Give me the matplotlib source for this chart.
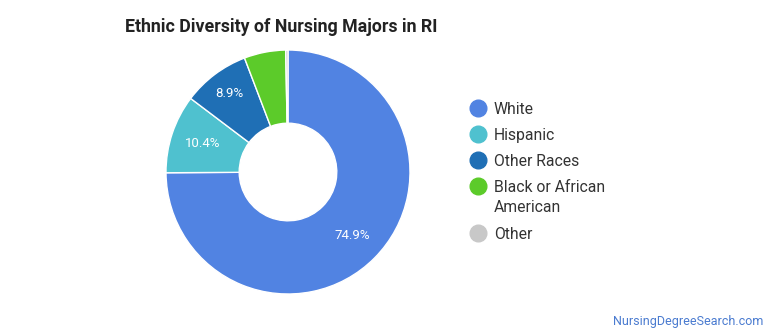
import matplotlib
matplotlib.use("Agg")
import numpy as np
import matplotlib.pyplot as plt
from matplotlib.lines import Line2D

plt.rcParams['font.family'] = ['Roboto', 'DejaVu Sans']

# data
groups = ['White', 'Hispanic', 'Other Races', 'Black or African\nAmerican', 'Other']
shares = [74.9, 10.4, 8.9, 5.5, 0.3]
colors = ['#5183e2', '#4fc1cf', '#1f6fb5', '#5ccb2a', '#c8c8c8']

# radial position of the % labels inside each ring slice
label_r = [0.74, 0.74, 0.80, 0.8, 0.8]

W, H = 770, 335
fig = plt.figure(figsize=(W / 100, H / 100), dpi=100)

# donut centred at about (288, 172) px, outer radius ~122 px
cx, cy, r = 288, 172, 122
ax = fig.add_axes([(cx - r) / W, (H - cy - r) / H, 2 * r / W, 2 * r / H])

wedges, texts, autotexts = ax.pie(
    shares, colors=colors, startangle=90, counterclock=False,
    radius=1, wedgeprops=dict(width=0.6, edgecolor='white', linewidth=1),
    autopct=lambda p: f'{p:.1f}%' if p > 8 else '', pctdistance=0.8,
    textprops=dict(color='white', fontsize=9.5))
for w, t, lr in zip(wedges, autotexts, label_r):
    ang = np.deg2rad((w.theta1 + w.theta2) / 2)
    t.set_position((lr * np.cos(ang), lr * np.sin(ang)))
ax.set_xlim(-1, 1)
ax.set_ylim(-1, 1)
ax.set_aspect('equal')
ax.axis('off')

fig.text(125 / W, 1 - 27 / H, 'Ethnic Diversity of Nursing Majors in RI',
         fontsize=12.8, fontweight='bold', color='#222222', va='center', ha='left')

# legend drawn by hand so the marker sits on the first line of a wrapped label
y = 108
for name, c in zip(groups, colors):
    fig.add_artist(Line2D([478 / W], [1 - y / H], marker='o', linestyle='',
                          markersize=12, markerfacecolor=c, markeredgecolor=c,
                          transform=fig.transFigure))
    fig.text(494 / W, 1 - (y - 6) / H, name, fontsize=11.3, color='#333333',
             ha='left', va='top', linespacing=1.45)
    y += 26 + 21 * name.count('\n')

fig.text(763 / W, 1 - 321 / H, 'NursingDegreeSearch.com', fontsize=9,
         color='#4a7bd0', ha='right', va='center')

fig.savefig('out.png', dpi=100)
